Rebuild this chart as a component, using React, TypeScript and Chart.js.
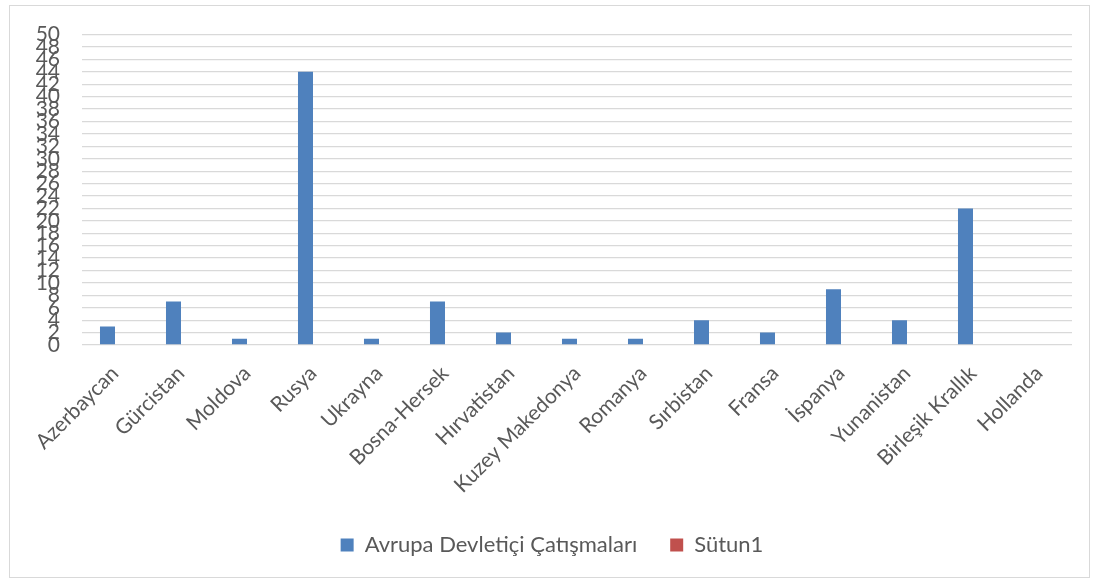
import React, { useEffect, useRef } from "react";
import { Chart, registerables } from "chart.js";

Chart.register(...registerables);

const categories = [
  "Azerbaycan", "Gürcistan", "Moldova", "Rusya", "Ukrayna", "Bosna-Hersek",
  "Hırvatistan", "Kuzey Makedonya", "Romanya", "Sırbistan", "Fransa",
  "İspanya", "Yunanistan", "Birleşik Krallık", "Hollanda",
];
const conflicts = [3, 7, 1, 44, 1, 7, 2, 1, 1, 4, 2, 9, 4, 22, 0];
const sutun1: (number | null)[] = [null, null, null, null, null, null, null, null, null, null, null, null, null, null, null];
const seriesNames = ["Avrupa Devletiçi Çatışmaları", "Sütun1"];

const FONT = "Lato, 'Open Sans', sans-serif";
const TEXT = "#595959";
const GRID = "#d9d9d9";

const framePlugin = {
  id: "frame",
  beforeDraw(chart: any) {
    const ctx = chart.ctx;
    ctx.save();
    ctx.fillStyle = "#ffffff";
    ctx.fillRect(0, 0, chart.width, chart.height);
    ctx.strokeStyle = GRID;
    ctx.lineWidth = 1;
    ctx.strokeRect(9.5, 5.5, 1080, 572);
    ctx.restore();
  },
};

export default function App() {
  const ref = useRef<HTMLCanvasElement>(null);
  useEffect(() => {
    document.body.style.margin = "0";
    const chart = new Chart(ref.current!, {
      type: "bar",
      data: {
        labels: categories,
        datasets: [
          {
            label: seriesNames[0],
            data: conflicts,
            backgroundColor: "#4f81bd",
            categoryPercentage: 0.455,
            barPercentage: 1,
          },
          {
            label: seriesNames[1],
            data: sutun1,
            backgroundColor: "#c0504d",
            categoryPercentage: 0.455,
            barPercentage: 1,
          },
        ],
      },
      options: {
        responsive: false,
        animation: false,
        layout: { padding: { left: 32, top: 33, right: 22, bottom: 16 } },
        plugins: {
          legend: {
            position: "bottom",
            labels: {
              boxWidth: 13,
              boxHeight: 13,
              padding: 33,
              color: TEXT,
              font: { family: FONT, size: 22 },
            },
          },
          tooltip: { enabled: false },
        },
        scales: {
          x: {
            grid: { display: false },
            border: { display: false },
            ticks: {
              autoSkip: false,
              minRotation: 45,
              maxRotation: 45,
              color: TEXT,
              padding: 8,
              font: { family: FONT, size: 21 },
            },
            afterFit(scale: any) {
              scale.height = 156;
            },
          },
          y: {
            min: 0,
            max: 50,
            grid: { color: GRID, lineWidth: 1.3, drawTicks: false },
            border: { display: false },
            ticks: {
              stepSize: 2,
              autoSkip: false,
              color: TEXT,
              padding: 22,
              font: { family: FONT, size: 21 },
            },
            afterFit(scale: any) {
              scale.width = 50;
            },
          },
        },
      },
      plugins: [framePlugin],
    });
    return () => chart.destroy();
  }, []);
  return (
    <div style={{ width: 1094, height: 582 }}>
      <canvas ref={ref} width={1094} height={582} />
    </div>
  );
}
